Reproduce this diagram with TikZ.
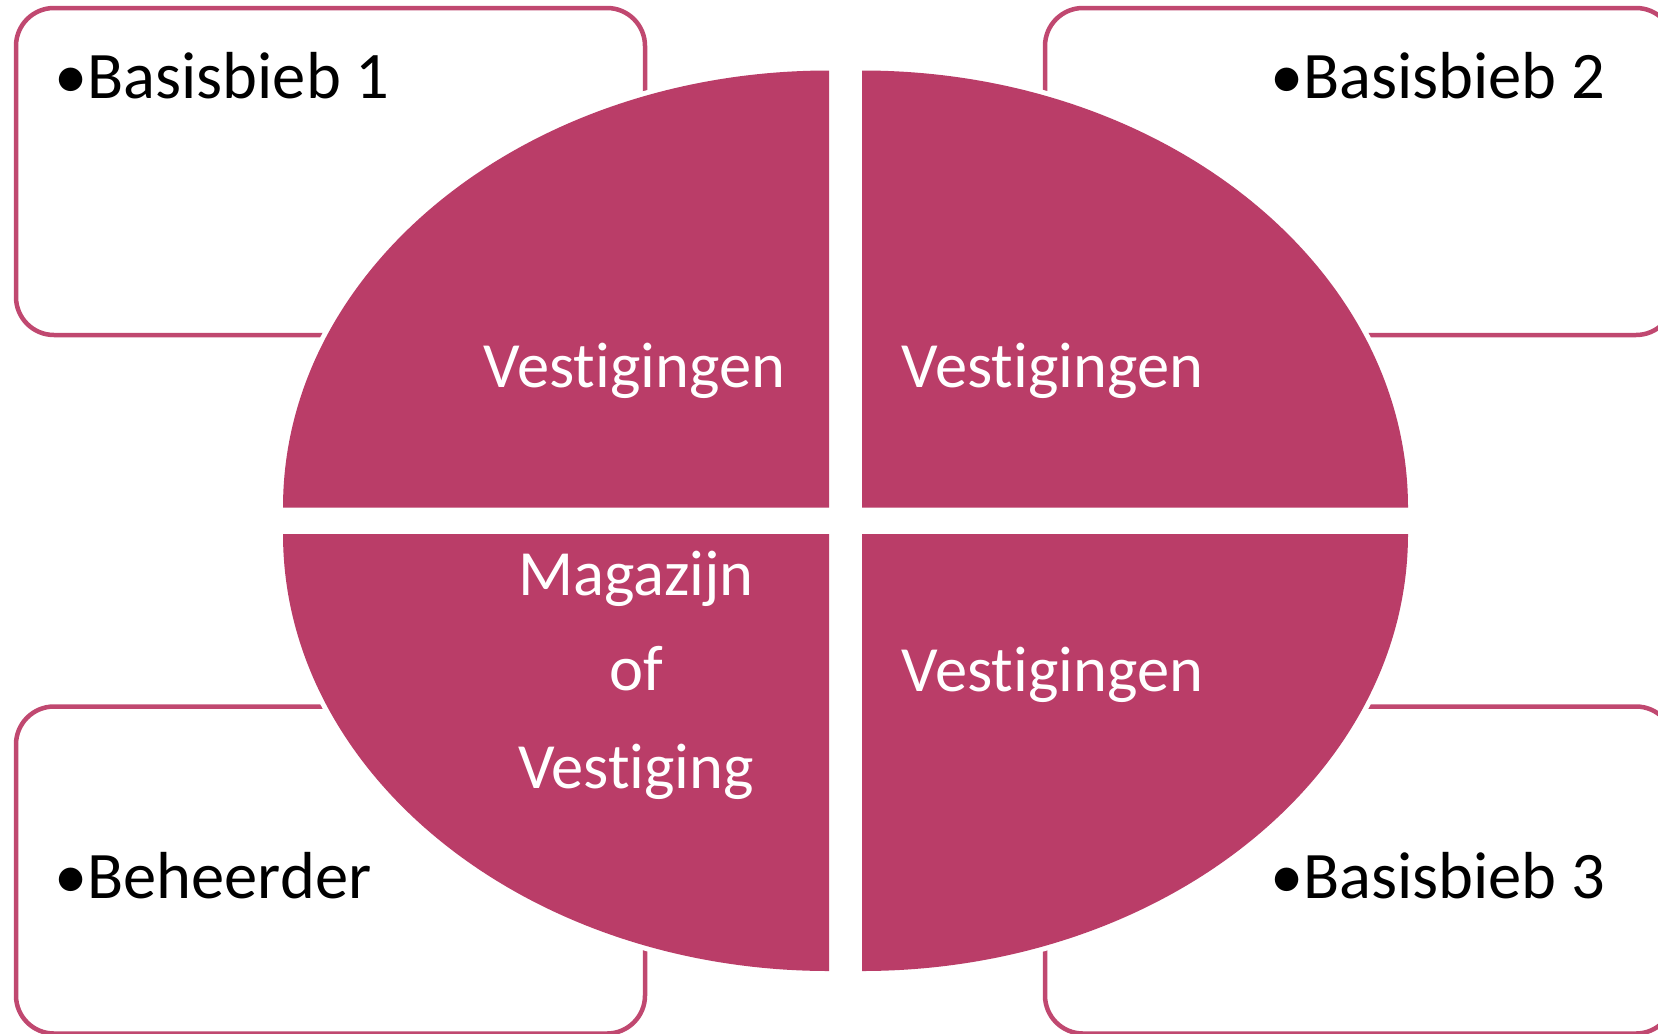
\documentclass[tikz,border=0pt]{standalone}
\usepackage{fontspec}
\setmainfont{Carlito}[Ligatures=NoCommon]
\definecolor{berry}{RGB}{186,61,104}
\definecolor{berryline}{RGB}{192,72,112}
\tikzset{pinkbox/.style={draw=berryline,line width=2.25pt,fill=white,rounded corners=19pt},
    quarter/.style={fill=berry,preaction={draw=white,line width=5pt}},
    boxtext/.style={inner sep=0pt,font=\fontsize{33.25}{39}\selectfont},
    quartertext/.style={inner sep=0pt,text=white,font=\fontsize{32.25}{38}\selectfont,anchor=base}}

\begin{document}
\begin{tikzpicture}[x=0.5pt,y=-0.5pt]
        \useasboundingbox (0,0) rectangle (1658,1033);
        % the four boxes behind
        \draw[pinkbox] (16,8) rectangle (645,335);
        \draw[pinkbox] (1045,8) rectangle (1674,335);
        \draw[pinkbox] (16,706.5) rectangle (645,1033.5);
        \draw[pinkbox] (1045,706.5) rectangle (1674,1033.5);
        \node[boxtext,anchor=base west] (bieb1) at (54,98.5) {•Basisbieb 1};
        \node[boxtext,anchor=base east] (bieb2) at (1606,98.5) {•Basisbieb 2};
        \node[boxtext,anchor=base west] (beheer) at (54,898.5) {•Beheerder};
        \node[boxtext,anchor=base east] (bieb3) at (1606,898.5) {•Basisbieb 3};
        % the four quarters
        \path[quarter] (829,507.5) -- (283,507.5) arc[start angle=180,end angle=90,x radius=273pt,y radius=218.5pt] -- cycle;
        \path[quarter] (862,507.5) -- (862,70.5) arc[start angle=90,end angle=0,x radius=273pt,y radius=218.5pt] -- cycle;
        \path[quarter] (829,534) -- (283,534) arc[start angle=180,end angle=270,x radius=273pt,y radius=218.5pt] -- cycle;
        \path[quarter] (862,534) -- (1408,534) arc[start angle=0,end angle=-90,x radius=273pt,y radius=218.5pt] -- cycle;
        \node[quartertext] (vest1) at (634.5,387) {Vest\kern0pt igingen};
        \node[quartertext] (vest2) at (1052.5,387) {Vest\kern0pt igingen};
        \node[quartertext] (vest3) at (1052.5,691) {Vest\kern0pt igingen};
        \node[quartertext] (mag) at (636,595) {Magazijn};
        \node[quartertext] (of) at (636,690) {of};
        \node[quartertext] (vest4) at (636,788) {Vest\kern0pt iging};
    \end{tikzpicture}
\end{document}
